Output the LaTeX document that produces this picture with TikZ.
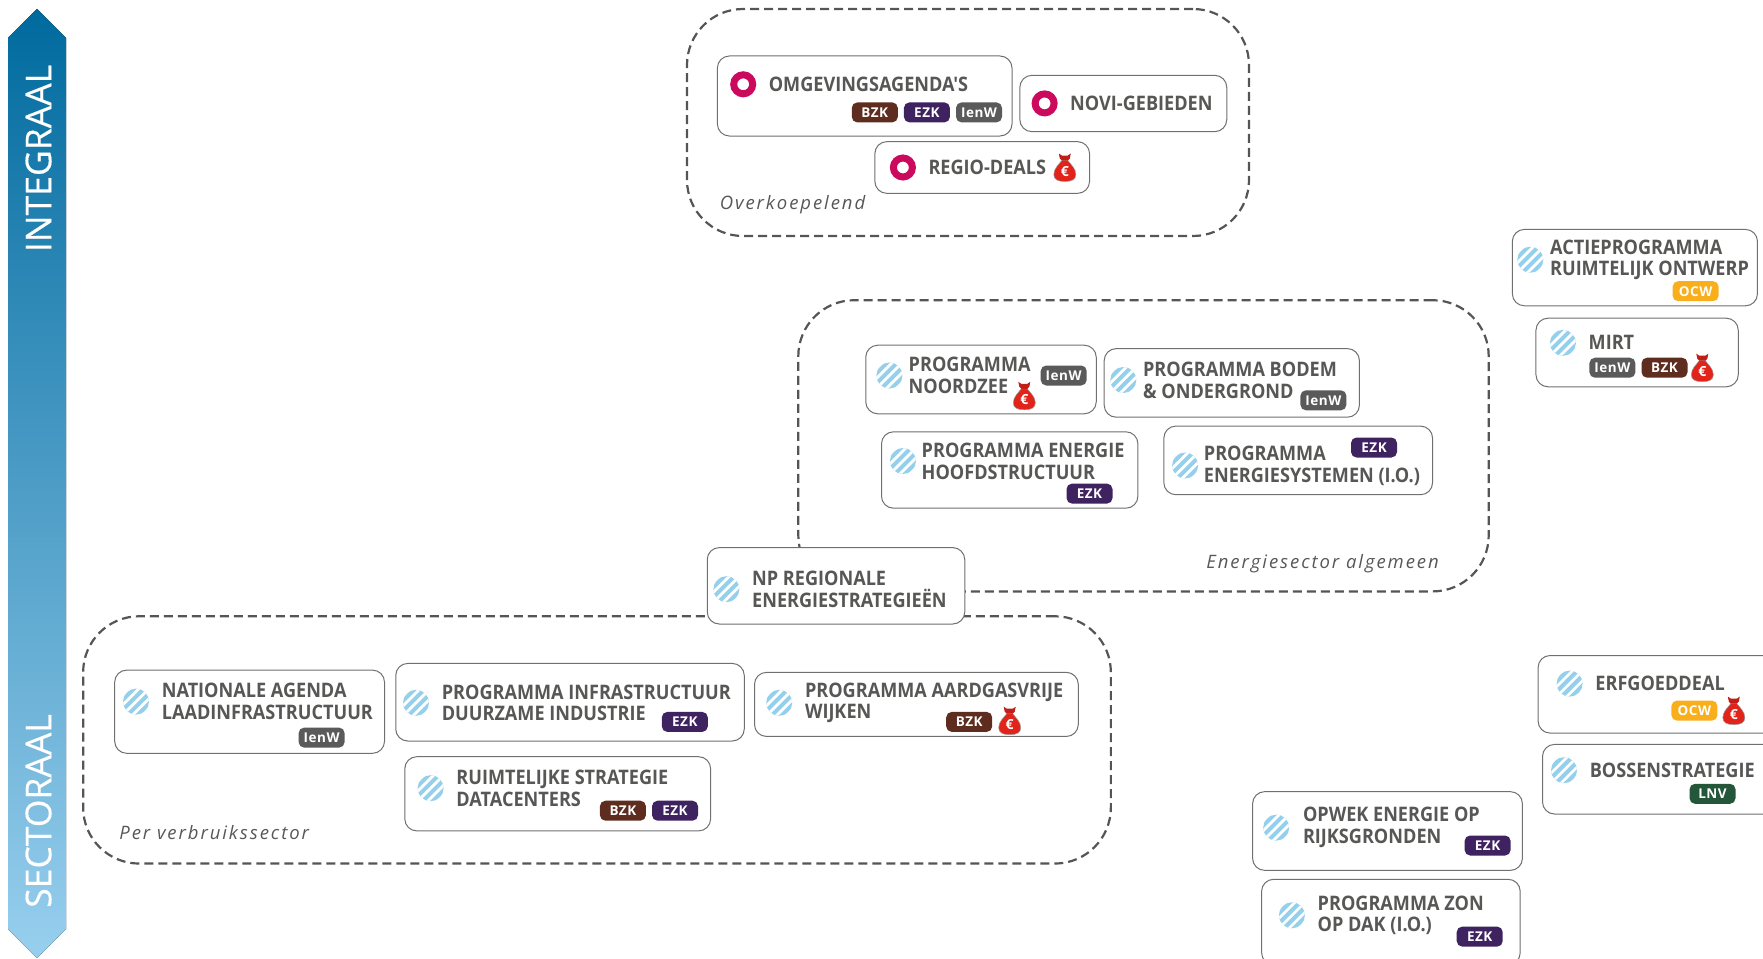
\documentclass[tikz,border=0pt]{standalone}
\usepackage{fontspec}
\setmainfont{Open Sans}
\newfontfamily\titlefont[FakeStretch=0.905]{Open Sans}
\newfontfamily\notefont[LetterSpace=10.5]{Open Sans}
\newfontfamily\tagfont[LetterSpace=4]{Open Sans}
\newfontfamily\sidefont[FakeBold=0.4]{Open Sans}
\usetikzlibrary{positioning}
\definecolor{inkgrey}{HTML}{575756}
\definecolor{dashgrey}{HTML}{555555}
\definecolor{bzkbrown}{HTML}{5E2D20}
\definecolor{ezkpurple}{HTML}{3F2360}
\definecolor{ienwgrey}{HTML}{5A5A5A}
\definecolor{ocwyellow}{HTML}{F9AE1C}
\definecolor{lnvgreen}{HTML}{24563A}
\definecolor{ringred}{HTML}{CB0A5E}
\definecolor{hatchblue}{HTML}{94CFEC}
\definecolor{bagred}{HTML}{E2231A}
\definecolor{arrowtop}{HTML}{006A9E}
\definecolor{arrowbottom}{HTML}{98CFEE}
\tikzset{prog/.style={draw=inkgrey!85,line width=1pt,rounded corners=12pt,fill=white,inner sep=0pt}}
\tikzset{groupbox/.style={draw=dashgrey,line width=2.2pt,dash pattern=on 9pt off 5pt,rounded corners=56pt,inner sep=0pt}}
\tikzset{hatch/.style={circle,minimum size=26pt,inner sep=0pt,fill=hatchblue,path picture={
  \foreach \s in {-10,-5,0,5,10}
    \draw[white,line width=2.8pt] (path picture bounding box.center) ++(\s-18,\s+18) -- ++(36,-36);}}}
\tikzset{ringicon/.style={circle,minimum size=19pt,inner sep=0pt,draw=ringred,line width=7pt,fill=white}}
\tikzset{title/.style={inner sep=0pt,xshift=-.6pt,align=left,text=inkgrey,font=\fontsize{20}{21.7}\selectfont\titlefont\bfseries}}
\tikzset{note/.style={inner sep=0pt,text=inkgrey,font=\fontsize{18.5}{20}\selectfont\notefont\itshape}}
\tikzset{tag/.style={rounded corners=5.5pt,minimum width=46pt,minimum height=20pt,inner sep=0pt,text=white,font=\fontsize{13.5}{14}\selectfont\tagfont\bfseries}}
\tikzset{bzk/.style={tag,fill=bzkbrown}}
\tikzset{ezk/.style={tag,fill=ezkpurple}}
\tikzset{ienw/.style={tag,fill=ienwgrey}}
\tikzset{ocw/.style={tag,fill=ocwyellow}}
\tikzset{lnv/.style={tag,fill=lnvgreen}}
\tikzset{side/.style={inner sep=0pt,rotate=90,text=white,font=\fontsize{35.5}{38}\selectfont\sidefont}}
\tikzset{moneybag/.pic={
  \fill[bagred,draw=inkgrey!60,line width=.5pt] (-3,-7) .. controls (-6,-3) and (-11,1) .. (-11,7)
    .. controls (-11,12) and (-7,14) .. (0,14) .. controls (7,14) and (11,12) .. (11,7)
    .. controls (11,1) and (6,-3) .. (3,-7) -- cycle;
  \fill[bagred!85!black] (-6,-14) -- (-3,-12) -- (3,-12) -- (6,-14) -- (5,-9) -- (3,-7) -- (-3,-7) -- (-5,-9) -- cycle;
  \node[inner sep=0pt,text=white,font=\fontsize{14}{14}\selectfont\bfseries] (-euro) at (0,4) {€};
}}

\begin{document}
\begin{tikzpicture}[x=1pt,y=-1pt]
        \clip (0,0) rectangle (1763,958);

        % side arrow
        \fill[top color=arrowtop,bottom color=arrowbottom]
         (37,9) -- (66,38) -- (66,929) -- (37,958) -- (8,929) -- (8,38) -- cycle;
        \node[side] (integraal) at (38.5,158.5) {INTEGRAAL};
        \node[side] (sectoraal) at (38.5,811) {SECTORAAL};

        % dashed groups
        \node[groupbox,minimum width=562pt,minimum height=227pt] (overkoepelend) at (968,122.5) {};
        \node[groupbox,minimum width=690.4pt,minimum height=291.2pt] (energie) at (1143.5,445.8) {};
        \node[groupbox,minimum width=1027.7pt,minimum height=247.3pt] (verbruik) at (597,739.9) {};

        \node[note,anchor=west] (overkoepelendnote) at (719.6,204.5) {Overkoepelend};
        \node[note,anchor=east] (energienote) at (1439,563.5) {Energiesector algemeen};
        \node[note,anchor=west] (verbruiknote) at (119.2,833) {Per verbruikssector};

        % overkoepelend
        \node[prog,minimum width=294.6pt,minimum height=80pt] (om) at (864.7,96) {};
        \node[ringicon] (omicon) at (743.2,84.3) {};
        \node[title,right=13pt of omicon] (omtitle) {OMGEVINGSAGENDA'S};
        \node[bzk] (ombzk) at (874.8,112.4) {BZK};
        \node[ezk,right=5.7pt of ombzk] (omezk) {EZK};
        \node[ienw,right=5.7pt of omezk] (omienw) {IenW};

        \node[prog,minimum width=206.9pt,minimum height=56.3pt] (novi) at (1123.3,103.5) {};
        \node[ringicon] (noviicon) at (1044.6,103.4) {};
        \node[title,right=13pt of noviicon] (novititle) {NOVI-GEBIEDEN};

        \node[prog,minimum width=214.7pt,minimum height=51.7pt] (regio) at (982.2,167.5) {};
        \node[ringicon] (regioicon) at (902.9,167.5) {};
        \node[title,right=13pt of regioicon] (regiotitle) {REGIO-DEALS};
        \pic (regiobag) at (1064.8,167.5) {moneybag};

        % energiesector
        \node[prog,minimum width=230.5pt,minimum height=68.6pt] (noord) at (981,379.5) {};
        \node[hatch] (noordicon) at (889.4,375.5) {};
        \node[title,right=6.5pt of noordicon] (noordtitle) {PROGRAMMA\\NOORDZEE};
        \node[ienw] (noordienw) at (1063.7,375.5) {IenW};
        \pic (noordbag) at (1024.3,395.8) {moneybag};

        \node[prog,minimum width=255.2pt,minimum height=68.6pt] (bodem) at (1231.8,382.9) {};
        \node[hatch] (bodemicon) at (1123.3,380) {};
        \node[title,right=7pt of bodemicon] (bodemtitle) {PROGRAMMA BODEM\\\& ONDERGROND};
        \node[ienw] (bodemienw) at (1323.4,400.3) {IenW};

        \node[prog,minimum width=256.4pt,minimum height=76.4pt] (hoofd) at (1009.7,470) {};
        \node[hatch] (hoofdicon) at (902.9,461) {};
        \node[title,right=6pt of hoofdicon] (hoofdtitle) {PROGRAMMA ENERGIE\\HOOFDSTRUCTUUR};
        \node[ezk] (hoofdezk) at (1089.5,493.6) {EZK};

        \node[prog,minimum width=268.7pt,minimum height=68.6pt] (systemen) at (1298.2,460.4) {};
        \node[hatch] (systemenicon) at (1185.1,465.5) {};
        \node[title,right=6pt of systemenicon] (systementitle) {PROGRAMMA\\ENERGIESYSTEMEN (I.O.)};
        \node[ezk] (systemenezk) at (1374,447.5) {EZK};

        % shared box on top of both groups
        \node[prog,minimum width=257.5pt,minimum height=76.4pt] (np) at (836,585.8) {};
        \node[hatch] (npicon) at (726.4,589.2) {};
        \node[title,right=13pt of npicon] (nptitle) {NP REGIONALE\\ENERGIESTRATEGIEËN};

        % per verbruikssector
        \node[prog,minimum width=269.8pt,minimum height=83.2pt] (nat) at (249.6,711.7) {};
        \node[hatch] (naticon) at (136,701.6) {};
        \node[title,right=13pt of naticon] (nattitle) {NATIONALE AGENDA\\LAADINFRASTRUCTUUR};
        \node[ienw] (natienw) at (321.6,737.6) {IenW};

        \node[prog,minimum width=348.5pt,minimum height=77.6pt] (infra) at (570,702.2) {};
        \node[hatch] (infraicon) at (416,702.8) {};
        \node[title,right=13pt of infraicon] (infratitle) {PROGRAMMA INFRASTRUCTUUR\\DUURZAME INDUSTRIE};
        \node[ezk] (infraezk) at (684.8,721.9) {EZK};

        \node[prog,minimum width=323.8pt,minimum height=64.1pt] (gas) at (916.4,704.4) {};
        \node[hatch] (gasicon) at (779.2,702.8) {};
        \node[title,right=13pt of gasicon] (gastitle) {PROGRAMMA AARDGASVRIJE\\WIJKEN};
        \node[bzk] (gasbzk) at (969.2,721.9) {BZK};
        \pic (gasbag) at (1009.7,720.7) {moneybag};

        \node[prog,minimum width=305.8pt,minimum height=74.2pt] (ruim) at (557.7,793.8) {};
        \node[hatch] (ruimicon) at (430.6,788.2) {};
        \node[title,right=13pt of ruimicon] (ruimtitle) {RUIMTELIJKE STRATEGIE\\DATACENTERS};
        \node[bzk] (ruimbzk) at (622.9,810.7) {BZK};
        \node[ezk,right=5.7pt of ruimbzk] (ruimezk) {EZK};

        % losse programma's
        \node[prog,minimum width=245.1pt,minimum height=76.4pt] (actie) at (1634.9,267.6) {};
        \node[hatch] (actieicon) at (1530.3,259.7) {};
        \node[title,right=7pt of actieicon] (actietitle) {ACTIEPROGRAMMA\\RUIMTELIJK ONTWERP};
        \node[ocw] (actieocw) at (1695.6,291.2) {OCW};

        \node[prog,minimum width=202.3pt,minimum height=68.6pt] (mirt) at (1637.1,352.5) {};
        \node[hatch] (mirticon) at (1562.9,342.9) {};
        \node[title,right=13pt of mirticon,yshift=1pt] (mirttitle) {MIRT};
        \node[ienw] (mirtienw) at (1612.4,367.7) {IenW};
        \node[bzk,right=5.7pt of mirtienw] (mirtbzk) {BZK};
        \pic (mirtbag) at (1702.3,367.7) {moneybag};

        \node[prog,minimum width=241.8pt,minimum height=77.6pt] (erf) at (1659,694.3) {};
        \node[hatch] (erficon) at (1569.6,683.6) {};
        \node[title,right=13pt of erficon] (erftitle) {ERFGOEDDEAL};
        \node[ocw] (erfocw) at (1694.4,710.6) {OCW};
        \pic (erfbag) at (1733.8,710.6) {moneybag};

        \node[prog,minimum width=237pt,minimum height=69.6pt] (bos) at (1661,779.2) {};
        \node[hatch] (bosicon) at (1564,770.2) {};
        \node[title,right=13pt of bosicon] (bostitle) {BOSSENSTRATEGIE};
        \node[lnv] (boslnv) at (1712.5,793.8) {LNV};

        \node[prog,minimum width=269.8pt,minimum height=78.7pt] (opwek) at (1387.5,831) {};
        \node[hatch] (opwekicon) at (1276.2,827.6) {};
        \node[title,right=14pt of opwekicon] (opwektitle) {OPWEK ENERGIE OP\\RIJKSGRONDEN};
        \node[ezk] (opwekezk) at (1487.6,845.5) {EZK};

        \node[prog,minimum width=258.6pt,minimum height=85.4pt] (zon) at (1390.9,922) {};
        \node[hatch] (zonicon) at (1291.9,915.3) {};
        \node[title,right=13pt of zonicon] (zontitle) {PROGRAMMA ZON\\OP DAK (I.O.)};
        \node[ezk] (zonezk) at (1479.7,936.6) {EZK};
\end{tikzpicture}
\end{document}
